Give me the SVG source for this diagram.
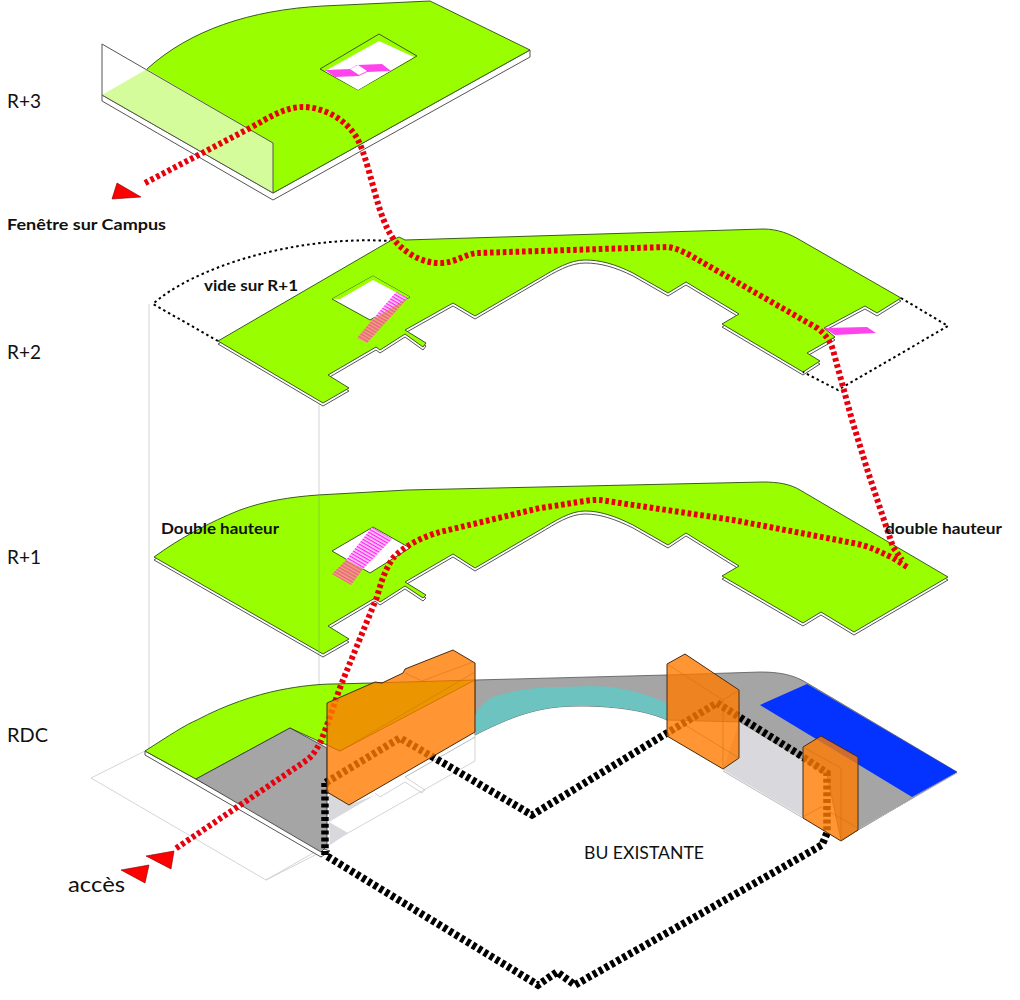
<svg xmlns="http://www.w3.org/2000/svg" width="1020" height="1000" viewBox="0 0 1020 1000">
<style>
.p{fill:#99ff00;stroke:#3d5a20;stroke-width:1;stroke-linejoin:round}
.s{fill:#fff;stroke:#555;stroke-width:1;stroke-linejoin:round}
.h{fill:#fff;stroke:#3d5a20;stroke-width:1}
.t{fill:none;stroke:#c9c9cd;stroke-width:.8}
.d{fill:none;stroke:#000;stroke-width:2;stroke-dasharray:2.5 3}
.r{fill:none;stroke:#e8000d;stroke-width:6;stroke-dasharray:3.6 2.8}
.b{fill:none;stroke:#000;stroke-width:7.5;stroke-dasharray:4 2.8}
.o{fill:#ff7a00;fill-opacity:.8;stroke:#4a2c10;stroke-width:1;stroke-linejoin:round}
.ol{fill:none;stroke:#c06a10;stroke-width:.6;stroke-opacity:.7}
.a{fill:#f00;stroke:#700;stroke-width:.6}
.m{fill:#ff44ee}
.l{font-family:"Lato","Liberation Sans",sans-serif;font-weight:400;fill:#111}
.n{font-family:"Lato","Liberation Sans",sans-serif;font-weight:700;fill:#111;font-size:16px}
</style>
<defs>
<pattern id="hm" width="3" height="3" patternUnits="userSpaceOnUse" patternTransform="rotate(30)"><rect width="3" height="3" fill="#ffd0ff"/><rect width="3" height="1.3" fill="#ff22ee"/></pattern>
<pattern id="hs" width="3" height="3" patternUnits="userSpaceOnUse" patternTransform="rotate(30)"><rect width="3" height="3" fill="#e8b070"/><rect width="3" height="1.7" fill="#f0608a"/></pattern>
<path id="r2" d="M218 341L390 241L399 237L405 240L763 229C778 229 790 234 800 240L901 298L877 313L865 306L824 328L835 337L807 353L820 361L803 372L722 324L739 314L686 282L668 293L633 273C615 264 600 260 585 260C570 260 555 269 540 278L475 316L453 303L405 330L426 343L423 347L405 334L380 350L376 347L328 375L349 388L323 403Z"/>
<path id="r1" d="M154 557C180 538 210 522 240 510C265 501 290 497 318 495L407 490L763 482C778 482 790 484 800 490L948 577L854 632L821 612L803 623L722 576L739 566L686 533L668 545L633 525C615 516 600 511 585 511C570 511 555 521 540 530L475 568L453 554L405 582L426 595L423 598L405 586L380 602L375 598L328 626L349 639L323 654Z"/>
</defs>

<g id="guides">
<path class="t" d="M149 304V751M319 403V852"/>
<path class="t" d="M145 751L91 778L266 880L321 852M266 880L348 833L475 761V663M405 777L425 790L422 793L405 782L380 797L375 793"/>
</g>

<g id="level-r3">
<path class="s" d="M102 95V101L273 200L530 57V50L273 193Z"/>
<path class="p" d="M147 69C190 30 250 10 323 6L430 1L530 50L273 193Z"/>
<path class="p" style="fill:#d4fc9a;stroke:none" d="M102 95L147 69L273 143V193Z"/>
<path d="M102 95V44L273 143V193L102 95" fill="none" stroke="#555" stroke-width="1"/>
<path class="p" d="M379 34L417 56L358 90L320 69Z"/>
<path class="h" d="M379 41L414 57L358 90L325 71Z" style="stroke:none"/>
<path class="m" d="M325 70L350 69L357 65L382 64L391 71L367 72L359 76L335 77Z"/>
<path fill="#fff" d="M350 69L358 65L367 71L359 75Z"/>
</g>

<g id="level-r2">
<use href="#r2" class="s" transform="translate(0,3)"/>
<use href="#r2" class="p"/>
<path class="h" d="M373 276L410 297L370 320L332 299Z"/>
<path fill="#99ff00" d="M373 276L410 297L407 298L373 280L340 299H332Z"/>
<path d="M396 292L408 298L372 320Z" fill="url(#hm)"/>
<path d="M408 298L367 343L357 338L372 320Z" fill="url(#hs)"/>
<path class="m" d="M824 328L867 327L876 333L835 335Z"/>
<path class="d" d="M218 341L153 304C190 270 290 235 390 241M901 298L948 326L838 390L803 372"/>
</g>

<g id="level-r1">
<use href="#r1" class="s" transform="translate(0,3)"/>
<use href="#r1" class="p"/>
<path class="h" d="M373 527L410 548L370 573L332 551Z"/>
<path d="M372 527L392 539L363 569L346 560Z" fill="url(#hm)"/>
<path d="M346 560L363 569L351 585L332 574Z" fill="url(#hs)"/>
<path d="M319 495V654" stroke="#7fcc30" stroke-width=".8"/>
</g>

<g id="level-rdc">
<path class="s" d="M145 751V755L321 857L330 851L321 848L145 751Z"/>
<path fill="#a5a5a5" stroke="#555" stroke-width=".8" d="M475 680L667 675L760 672C785 672 797 677 807 683L957 772L841 840L827 775L803 760L739 722L667 720C650 712 620 706 580 706C545 706 520 712 475 735Z"/>
<path fill="#6cc3c0" d="M475 715C480 705 487 700 493 697C515 690 535 687 560 687C590 686 605 686 617 688C640 692 655 698 667 703V720C650 712 620 706 580 706C545 706 520 712 475 735Z"/>
<path fill="#d9d8dc" d="M723 770L803 817V760L739 722Z"/>
<path fill="none" stroke="#bbb" d="M723 771L803 818M857 830L957 773M475 737L405 777"/>
<path fill="#0433ff" d="M760 705L807 684L957 772L912 797Z"/>
<path class="p" d="M145 751C170 735 185 725 197 720C225 705 255 695 280 690C300 686 320 684 333 684L373 683L475 680L340 751L290 728L196 779Z"/>
<path fill="#a5a5a5" stroke="#333" stroke-width=".8" d="M196 779L290 728L327 748V846L321 852Z"/>
<path fill="#d9d8dc" d="M329 792L349 805L375 795L329 822ZM329 822L348 833L330 845Z"/>
</g>

<g id="connectors">
<path class="b" d="M325 783V855L538 985L557 972L575 985L822 845L827 833V773L803 757L717 703L667 733L532 815L450 767L400 738Z"/>
<path class="r" d="M145 183L250 128C270 117 285 107 303 107C322 107 345 118 357 138C366 155 372 185 380 210C385 225 390 235 395 241C405 252 420 263 440 263C455 263 465 254 477 253L540 251L600 249L667 247C678 248 690 255 700 261L817 328C825 334 830 340 833 350L852 420L868 472L893 547L902 560"/>
<path class="r" d="M907 567L893 558C880 552 870 546 853 543L733 520L600 500C590 499 570 504 540 508L440 532C425 536 405 545 393 558C385 570 381 582 377 597L343 680C335 700 328 725 320 743C315 752 312 756 307 760L175 849"/>
</g>

<g id="volumes">
<path class="o" d="M327 703L375 682L382 683L403 673L405 669L453 650L475 663V732L349 805L327 792Z"/>
<path class="ol" d="M327 745L340 751L475 672M405 673L422 681L473 662"/>
<path class="o" d="M667 664L685 654L739 690V758L723 769L667 736Z"/>
<path class="ol" d="M667 664L723 700V769M723 700L739 690M667 736L685 725L739 758"/>
<path class="o" d="M803 747L821 736L858 757V830L841 841L803 818Z"/>
<path class="ol" d="M803 747L841 768V841M803 817L821 807L858 828"/>
</g>

<g id="arrows">
<path class="a" d="M112 199L117 183L141 197Z"/>
<path class="a" d="M146 856L174 851L171 869Z"/>
<path class="a" d="M121 870L149 865L145 883Z"/>
</g>

<g id="labels">
<text class="l" x="7" y="108" font-size="19" textLength="34" lengthAdjust="spacingAndGlyphs">R+3</text>
<text class="l" x="7" y="359" font-size="19" textLength="34" lengthAdjust="spacingAndGlyphs">R+2</text>
<text class="l" x="7" y="564" font-size="19" textLength="34" lengthAdjust="spacingAndGlyphs">R+1</text>
<text class="l" x="7" y="742" font-size="19" textLength="41" lengthAdjust="spacingAndGlyphs">RDC</text>
<text class="l" x="68" y="892" font-size="21" textLength="57" lengthAdjust="spacingAndGlyphs">accès</text>
<text class="l" x="584" y="859" font-size="18" textLength="120" lengthAdjust="spacingAndGlyphs">BU EXISTANTE</text>
<text class="n" x="7" y="230" textLength="159" lengthAdjust="spacingAndGlyphs">Fenêtre sur Campus</text>
<text class="n" x="204" y="291" textLength="94" lengthAdjust="spacingAndGlyphs">vide sur R+1</text>
<text class="n" x="161" y="534" textLength="118" lengthAdjust="spacingAndGlyphs">Double hauteur</text>
<text class="n" x="885" y="534" textLength="117" lengthAdjust="spacingAndGlyphs">double hauteur</text>
</g>
</svg>
